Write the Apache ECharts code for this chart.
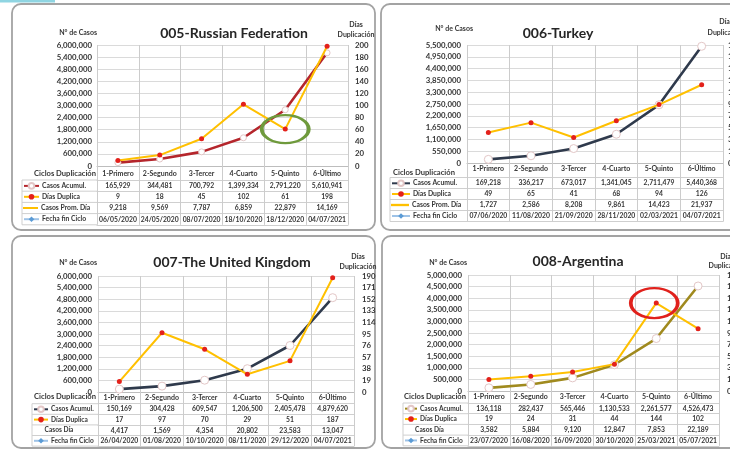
<!DOCTYPE html>
<html>
<head>
<meta charset="utf-8">
<script src="https://cdn.jsdelivr.net/npm/echarts@6/dist/echarts.min.js"></script>
<style>
  html, body { margin: 0; padding: 0; background: #fff; }
  #chart { width: 730px; height: 452px; }
</style>
</head>
<body>
<div id="chart"></div>
<script>
// ciclos de duplicacion (comunes a los 4 paises)
var ciclos = ['1-Primero', '2-Segundo', '3-Tercer', '4-Cuarto', '5-Quinto', '6-Último'];

// 005 - Russian Federation
var ruCasos = [165929, 344481, 700792, 1399334, 2791220, 5610941];
var ruDias = [9, 18, 45, 102, 61, 198];
var ruProm = [9218, 9569, 7787, 6859, 22879, 14169];
var ruFecha = ['06/05/2020', '24/05/2020', '08/07/2020', '18/10/2020', '18/12/2020', '04/07/2021'];
var ruEjeCasos = [0, 6000000, 600000];
var ruEjeDias = [0, 200, 20];

// 006 - Turkey
var trCasos = [169218, 336217, 673017, 1341045, 2711479, 5440368];
var trDias = [49, 65, 41, 68, 94, 126];
var trProm = [1727, 2586, 8208, 9861, 14423, 21937];
var trFecha = ['07/06/2020', '11/08/2020', '21/09/2020', '28/11/2020', '02/03/2021', '04/07/2021'];
var trEjeCasos = [0, 5500000, 550000];
var trEjeDias = [0, 190, 19];

// 007 - The United Kingdom
var ukCasos = [150169, 304428, 609547, 1206500, 2405478, 4879620];
var ukDias = [17, 97, 70, 29, 51, 187];
var ukDia = [4417, 1569, 4354, 20802, 23583, 13047];
var ukFecha = ['26/04/2020', '01/08/2020', '10/10/2020', '08/11/2020', '29/12/2020', '04/07/2021'];
var ukEjeCasos = [0, 6000000, 600000];
var ukEjeDias = [0, 190, 19];

// 008 - Argentina
var arCasos = [136118, 282437, 565446, 1130533, 2261577, 4526473];
var arDias = [19, 24, 31, 44, 144, 102];
var arDia = [3582, 5884, 9120, 12847, 7853, 22189];
var arFecha = ['23/07/2020', '16/08/2020', '16/09/2020', '30/10/2020', '25/03/2021', '05/07/2021'];
var arEjeCasos = [0, 5000000, 500000];
var arEjeDias = [0, 190, 19];

var FONT = 'Lato, "Open Sans", sans-serif';
var TXT = '#363636';
var AMARILLO = '#FFC000';
var ROJO = '#E3211B';
var ELIPSE = 'path://M0,50A50,50,0,1,1,100,50A50,50,0,1,1,0,50Z';
var BARRA = 'path://M0,0H20V2.6H0Z';

function fmt(v) {
  return typeof v === 'number' ? v.toLocaleString('en-US') : v;
}

var option = {
  backgroundColor: '#fff',
  animation: false,
  title: [],
  grid: [],
  xAxis: [],
  yAxis: [],
  legend: [],
  series: [],
  graphic: [
    { type: 'rect', z: 5, shape: { x: 0, y: 0, width: 55, height: 2.5 }, style: { fill: '#8fd5e2' } }
  ]
};

function txt(x, y, text, size, align) {
  option.graphic.push({
    type: 'text', z: 10, x: x, y: y,
    style: { text: text, font: 'bold ' + size + 'px ' + FONT, fill: TXT, textAlign: align, textVerticalAlign: 'middle' }
  });
}

function linea(x1, y1, x2, y2) {
  option.graphic.push({
    type: 'line', z: 10, shape: { x1: x1, y1: y1, x2: x2, y2: y2 },
    style: { stroke: '#cfcfcf', lineWidth: 1 }
  });
}

function addPanel(p) {
  var g = option.grid.length;
  var tableH = p.headH + 4 * p.rowH;
  var base = p.top + p.height;

  option.graphic.push({
    type: 'rect', z: -10,
    shape: { x: p.box[0], y: p.box[1], width: p.box[2], height: p.box[3], r: 9 },
    style: { fill: '#fff', stroke: '#a3a3a3', lineWidth: 1.8 }
  });

  option.title.push({
    text: p.title, left: p.titleX, top: p.titleY, textAlign: 'center',
    textStyle: { fontFamily: FONT, fontSize: 14, fontWeight: 'bold', color: '#262626' }
  });

  option.grid.push({ left: p.left, top: p.top, width: p.width, height: p.height, containLabel: false, outerBoundsMode: 'none' });

  var xi = option.xAxis.length;
  option.xAxis.push({
    type: 'category', gridIndex: g, position: 'bottom', data: ciclos,
    axisLine: { onZero: false, lineStyle: { color: '#bdbdbd' } },
    axisTick: { show: true, length: tableH, lineStyle: { color: '#cccccc' } },
    splitLine: { show: true, lineStyle: { color: '#cccccc' } },
    axisLabel: { interval: 0, margin: p.catMargin, fontFamily: FONT, fontSize: 7, fontWeight: 'bold', color: TXT }
  });
  p.rows.forEach(function (row, r) {
    option.xAxis.push({
      type: 'category', gridIndex: g, position: 'bottom', offset: p.headH + r * p.rowH, data: ciclos,
      axisLine: { onZero: false, lineStyle: { color: '#cfcfcf' } },
      axisTick: { show: false },
      axisLabel: {
        interval: 0, margin: p.rowMargin, fontFamily: FONT, fontSize: 6.8, fontWeight: 'bold', color: TXT,
        formatter: function (v, i) { return fmt(row.values[i]); }
      }
    });
  });
  option.xAxis.push({
    type: 'category', gridIndex: g, position: 'bottom', offset: tableH, data: ciclos,
    axisLine: { onZero: false, lineStyle: { color: '#cfcfcf' } },
    axisTick: { show: false }, axisLabel: { show: false }
  });

  var yi = option.yAxis.length;
  option.yAxis.push({
    type: 'value', gridIndex: g, position: 'left', min: p.lAxis[0], max: p.lAxis[1], interval: p.lAxis[2],
    axisLine: { show: false }, axisTick: { show: false },
    splitLine: { lineStyle: { color: '#dadada' } },
    axisLabel: { margin: p.lMargin, fontFamily: FONT, fontSize: 7.8, fontWeight: 'bold', color: TXT,
      formatter: function (v) { return v.toLocaleString('en-US'); } }
  });
  option.yAxis.push({
    type: 'value', gridIndex: g, position: 'right', min: p.rAxis[0], max: p.rAxis[1], interval: p.rAxis[2],
    axisLine: { show: false }, axisTick: { show: false }, splitLine: { show: false },
    axisLabel: { margin: p.rMargin, fontFamily: FONT, fontSize: 7.8, fontWeight: 'bold', color: TXT }
  });

  var nombres = p.rows.map(function (row) { return p.id + '|' + row.name; });

  option.series.push({
    name: nombres[0], type: 'line', xAxisIndex: xi, yAxisIndex: yi, data: p.rows[0].values,
    z: 3, symbol: 'circle', symbolSize: p.casosSym,
    lineStyle: { color: p.casosColor, width: 2.6 },
    itemStyle: { color: '#fff', borderColor: '#e3c7c7', borderWidth: 1 }
  });
  var dias = {
    name: nombres[1], type: 'line', xAxisIndex: xi, yAxisIndex: yi + 1, data: p.rows[1].values,
    z: 4, symbol: 'circle', symbolSize: 5,
    lineStyle: { color: AMARILLO, width: 2 },
    itemStyle: { color: ROJO, borderColor: ROJO, borderWidth: 0 }
  };
  if (p.mark) {
    dias.markPoint = {
      silent: true, symbol: ELIPSE, symbolSize: p.mark.size, symbolOffset: p.mark.offset,
      label: { show: false },
      itemStyle: { color: 'rgba(0,0,0,0)', borderColor: p.mark.color, borderWidth: 3 },
      data: [{ coord: [ciclos[p.mark.idx], p.rows[1].values[p.mark.idx]] }]
    };
  }
  option.series.push(dias);
  option.series.push({
    name: nombres[2], type: 'line', xAxisIndex: xi, yAxisIndex: yi, data: [],
    symbol: 'none', lineStyle: { color: AMARILLO, width: 2 }, itemStyle: { color: AMARILLO }
  });
  option.series.push({
    name: nombres[3], type: 'line', xAxisIndex: xi, yAxisIndex: yi, data: [],
    symbol: 'diamond', symbolSize: 4, lineStyle: { color: '#9fc3e7', width: 1.5 }, itemStyle: { color: '#5b9bd5' }
  });

  // leyenda de la tabla: una por fila
  p.rows.forEach(function (row, r) {
    var yTop = base + p.headH + r * p.rowH;
    if (row.noIcon) {
      txt((p.tableL + p.left) / 2 - 6, yTop + p.rowH / 2, row.name, p.legFont, 'center');
      return;
    }
    var item = r === 2 ? { name: nombres[r], icon: BARRA } : nombres[r];
    option.legend.push({
      data: [item], left: p.tableL + 1, top: yTop + (p.rowH - 7) / 2,
      itemWidth: p.iconW, itemHeight: 7, itemGap: 0, padding: 0, selectedMode: false,
      formatter: function (n) { return n.split('|')[1]; },
      textStyle: { fontFamily: FONT, fontSize: p.legFont, fontWeight: 'bold', color: TXT, padding: [0, 0, 0, -2] }
    });
  });

  // bordes de la columna izquierda de la tabla
  for (var r = 0; r <= 4; r++) {
    var yy = base + p.headH + r * p.rowH;
    linea(p.tableL, yy, p.left, yy);
  }
  linea(p.tableL, base + p.headH, p.tableL, base + tableH);

  txt(p.ciclosX, p.ciclosY, 'Ciclos Duplicación', 7.6, p.ciclosAlign);
  txt(p.casosX, p.casosY, 'N° de Casos', 7, 'right');
  txt(p.diasX, p.diasY[0], 'Días', 7, 'center');
  txt(p.diasX, p.diasY[1], 'Duplicación', 7, 'center');
}

addPanel({
  id: 'ru', title: '005-Russian Federation', box: [12, 4, 363, 226], titleX: 229, titleY: 21,
  left: 97, top: 45, width: 251, height: 121, headH: 14, rowH: 11.2, catMargin: 4, rowMargin: 2.4,
  tableL: 22, iconW: 15, legFont: 6.8, ciclosX: 96, ciclosY: 173.5, ciclosAlign: 'right',
  casosX: 97, casosY: 33, diasX: 356, diasY: [25, 34.5],
  lAxis: ruEjeCasos, rAxis: ruEjeDias, lMargin: 5, rMargin: 7,
  casosColor: '#B5262C', casosSym: 6,
  mark: { idx: 4, color: '#6F9A3C', size: [47, 28], offset: [0, 0] },
  rows: [
    { name: 'Casos Acumul.', values: ruCasos },
    { name: 'Días Duplica', values: ruDias },
    { name: 'Casos Prom. Día', values: ruProm },
    { name: 'Fecha fin Ciclo', values: ruFecha }
  ]
});

addPanel({
  id: 'tr', title: '006-Turkey', box: [381, 4, 370, 226], titleX: 553, titleY: 21,
  left: 467, top: 45, width: 256, height: 118, headH: 14.5, rowH: 11, catMargin: 2, rowMargin: 2.2,
  tableL: 390, iconW: 18, legFont: 6.8, ciclosX: 393, ciclosY: 173, ciclosAlign: 'left',
  casosX: 473, casosY: 29, diasX: 726, diasY: [22, 33],
  lAxis: trEjeCasos, rAxis: trEjeDias, lMargin: 6, rMargin: 5,
  casosColor: '#2F3A4C', casosSym: 8,
  rows: [
    { name: 'Casos Acumul.', values: trCasos },
    { name: 'Días Duplica', values: trDias },
    { name: 'Casos Prom. Día', values: trProm },
    { name: 'Fecha fin Ciclo', values: trFecha }
  ]
});

addPanel({
  id: 'uk', title: '007-The United Kingdom', box: [12, 236, 363, 212], titleX: 227, titleY: 250,
  left: 98, top: 276, width: 256, height: 116, headH: 11.7, rowH: 10.6, catMargin: 2, rowMargin: 2,
  tableL: 32, iconW: 14, legFont: 6.6, ciclosX: 96, ciclosY: 397, ciclosAlign: 'right',
  casosX: 97, casosY: 263, diasX: 358, diasY: [257, 266.5],
  lAxis: ukEjeCasos, rAxis: ukEjeDias, lMargin: 6, rMargin: 8,
  casosColor: '#2F3A4C', casosSym: 8,
  rows: [
    { name: 'Casos Acumul.', values: ukCasos },
    { name: 'Días Duplica', values: ukDias },
    { name: 'Casos Día', values: ukDia, noIcon: true },
    { name: 'Fecha fin Ciclo', values: ukFecha }
  ]
});

addPanel({
  id: 'ar', title: '008-Argentina', box: [382, 236, 370, 212], titleX: 573, titleY: 249,
  left: 468, top: 275, width: 251, height: 116, headH: 12, rowH: 10.7, catMargin: 2, rowMargin: 2,
  tableL: 403, iconW: 12, legFont: 6.6, ciclosX: 466, ciclosY: 397, ciclosAlign: 'right',
  casosX: 467, casosY: 263, diasX: 727, diasY: [257, 265.5],
  lAxis: arEjeCasos, rAxis: arEjeDias, lMargin: 6, rMargin: 8,
  casosColor: '#A08A1E', casosSym: 8,
  mark: { idx: 4, color: '#E0211C', size: [47, 30], offset: [-2, 0] },
  rows: [
    { name: 'Casos Acumul.', values: arCasos },
    { name: 'Días Duplica', values: arDias },
    { name: 'Casos Día', values: arDia, noIcon: true },
    { name: 'Fecha fin Ciclo', values: arFecha }
  ]
});

var chart = echarts.init(document.getElementById('chart'));
chart.setOption(option);
</script>
</body>
</html>
